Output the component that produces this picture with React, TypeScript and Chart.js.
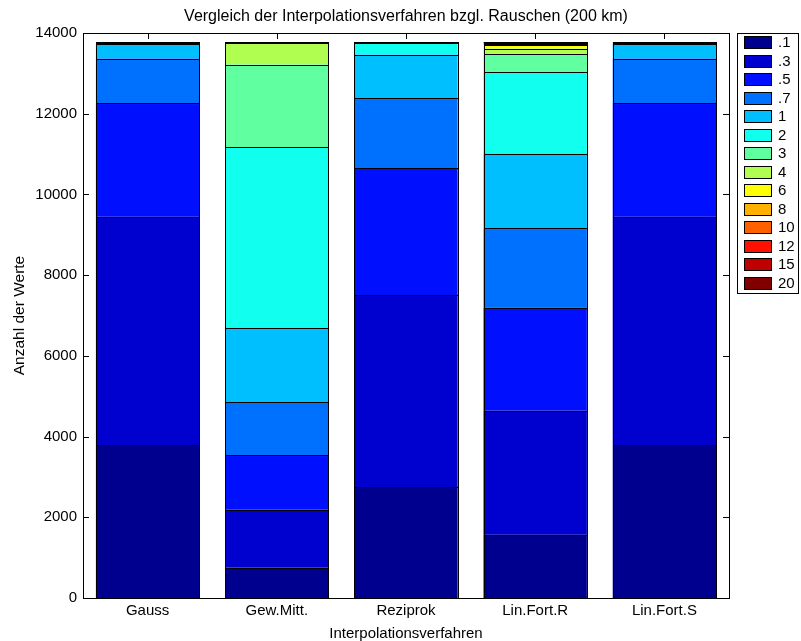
import React, { useEffect, useRef } from "react";
import { Chart, registerables } from "chart.js";

Chart.register(...registerables);

const categories = ["Gauss", "Gew.Mitt.", "Reziprok", "Lin.Fort.R", "Lin.Fort.S"];
const classLabels = [".1", ".3", ".5", ".7", "1", "2", "3", "4", "6", "8", "10", "12", "15", "20"];
const classColors = [
  "#00008F", "#0000CF", "#0010FF", "#0070FF", "#00BFFF", "#10FFEF", "#60FF9F",
  "#B0FF50", "#FFFF00", "#FFB000", "#FF6000", "#FF1000", "#BF0000", "#800000",
];

// counts per class (.1 ... 20) for each method
const gauss = [3784, 5662, 2821, 1099, 371, 25, 8, 4, 2, 1, 1, 1, 0, 1];
const gewMitt = [755, 1435, 1351, 1312, 1848, 4477, 2039, 535, 15, 6, 3, 2, 1, 1];
const reziprok = [2747, 4759, 3137, 1748, 1074, 287, 18, 5, 2, 1, 1, 0, 0, 1];
const linFortR = [1569, 3076, 2546, 1965, 1858, 2020, 438, 141, 89, 30, 20, 12, 8, 8];
const linFortS = [3784, 5662, 2821, 1099, 371, 25, 8, 4, 2, 1, 1, 1, 0, 1];

const yMin = 0;
const yMax = 14000;
const yStep = 2000;

const titleText = "Vergleich der Interpolationsverfahren bzgl. Rauschen (200 km)";
const xLabel = "Interpolationsverfahren";
const yLabel = "Anzahl der Werte";

const FONT = "'Liberation Sans', Arial, Helvetica, sans-serif";

export default function App() {
  const ref = useRef<HTMLCanvasElement>(null);

  useEffect(() => {
    const methods = [gauss, gewMitt, reziprok, linFortR, linFortS];
    const datasets = classLabels.map((lab, i) => ({
      label: lab,
      data: methods.map((m) => m[i]),
      backgroundColor: classColors[i],
      borderWidth: 0,
      categoryPercentage: 0.8,
      barPercentage: 1.0,
    }));

    const decor = {
      id: "decor",
      beforeDatasetsDraw(chart: any) {
        const { ctx, chartArea: a, scales } = chart;
        ctx.save();
        ctx.strokeStyle = "#000";
        ctx.lineWidth = 1;
        const tl = 6;
        ctx.beginPath();
        for (let v = yMin; v <= yMax; v += yStep) {
          const y = Math.round(scales.y.getPixelForValue(v)) + 0.5;
          ctx.moveTo(a.left, y);
          ctx.lineTo(a.left + tl, y);
          ctx.moveTo(a.right, y);
          ctx.lineTo(a.right - tl, y);
        }
        categories.forEach((_, i) => {
          const x = Math.round(scales.x.getPixelForValue(i)) + 0.5;
          ctx.moveTo(x, a.top);
          ctx.lineTo(x, a.top + tl);
          ctx.moveTo(x, a.bottom);
          ctx.lineTo(x, a.bottom - tl);
        });
        ctx.stroke();
        ctx.restore();
      },
      afterDatasetsDraw(chart: any) {
        const { ctx, chartArea: a } = chart;
        ctx.save();
        ctx.strokeStyle = "#000";
        ctx.lineWidth = 1;
        // segment outlines (MATLAB-style edge lines)
        chart.data.datasets.forEach((_: any, di: number) => {
          const meta = chart.getDatasetMeta(di);
          meta.data.forEach((el: any, j: number) => {
            if (!chart.data.datasets[di].data[j]) return;
            const { x, y, base, width } = el.getProps(["x", "y", "base", "width"], true);
            const l = Math.round(x - width / 2);
            const r = Math.round(x + width / 2);
            const t = Math.round(y);
            const b = Math.round(base);
            ctx.strokeRect(l + 0.5, t + 0.5, r - l, Math.max(0, b - t));
          });
        });
        ctx.strokeRect(Math.round(a.left) + 0.5, Math.round(a.top) + 0.5,
          Math.round(a.right - a.left), Math.round(a.bottom - a.top));
        ctx.restore();
      },
      afterDraw(chart: any) {
        const { ctx, chartArea: a } = chart;
        ctx.save();
        ctx.fillStyle = "#000";
        ctx.textAlign = "center";
        ctx.textBaseline = "alphabetic";
        const cx = (a.left + a.right) / 2;
        ctx.font = `16px ${FONT}`;
        ctx.fillText(titleText, cx, 21);
        ctx.font = `15px ${FONT}`;
        ctx.fillText(xLabel, cx, 638);
        ctx.save();
        ctx.translate(24, (a.top + a.bottom) / 2);
        ctx.rotate(-Math.PI / 2);
        ctx.font = `15.5px ${FONT}`;
        ctx.fillText(yLabel, 0, 0);
        ctx.restore();

        // legend
        ctx.font = `15px ${FONT}`;
        const bx = 737.5, by = 33.5, bw = 61, bh = 260;
        ctx.fillStyle = "#fff";
        ctx.fillRect(bx, by, bw, bh);
        ctx.strokeStyle = "#000";
        ctx.lineWidth = 1;
        ctx.strokeRect(bx, by, bw, bh);
        ctx.textAlign = "left";
        ctx.textBaseline = "middle";
        classLabels.forEach((lab, i) => {
          const cy = 42 + i * 18.5;
          const sy = Math.round(cy - 6) + 0.5;
          ctx.fillStyle = classColors[i];
          ctx.fillRect(744.5, sy, 27, 12);
          ctx.strokeRect(744.5, sy, 27, 12);
          ctx.fillStyle = "#000";
          ctx.fillText(lab, 778, cy + 1);
        });
        ctx.restore();
      },
    };

    const chart = new Chart(ref.current!, {
      type: "bar",
      data: { labels: categories, datasets },
      options: {
        responsive: false,
        animation: false,
        devicePixelRatio: 1,
        layout: { padding: { top: 33, right: 72, bottom: 0, left: 0 } },
        plugins: {
          legend: { display: false },
          title: { display: false },
          tooltip: { enabled: false },
        },
        scales: {
          x: {
            stacked: true,
            offset: true,
            grid: { display: false, drawTicks: false },
            border: { display: false },
            ticks: { color: "#000", font: { family: FONT, size: 15 }, padding: 4, maxRotation: 0 },
            afterFit(scale: any) {
              scale.height = 43;
            },
          },
          y: {
            stacked: true,
            min: yMin,
            max: yMax,
            grid: { display: false, drawTicks: false },
            border: { display: false },
            ticks: {
              stepSize: yStep,
              color: "#000",
              font: { family: FONT, size: 15 },
              padding: 6,
              callback: (v: any) => String(v),
            },
            afterFit(scale: any) {
              scale.width = 83;
            },
          },
        },
      },
      plugins: [decor],
    });
    return () => chart.destroy();
  }, []);

  return (
    <div style={{ position: "absolute", left: 0, top: 0, width: 801, height: 641, background: "#fff" }}>
      <canvas ref={ref} width={801} height={641} style={{ width: 801, height: 641, display: "block" }} />
    </div>
  );
}
